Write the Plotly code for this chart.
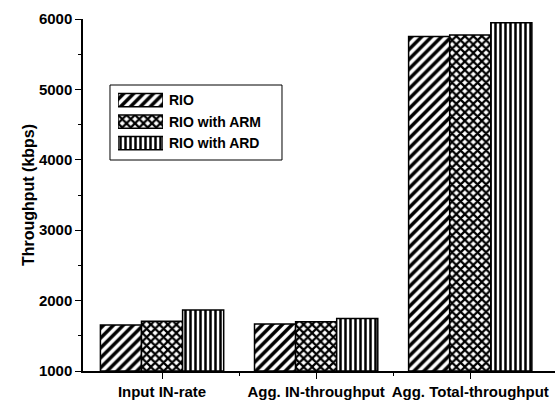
import plotly.graph_objects as go

categories = ["Input IN-rate", "Agg. IN-throughput", "Agg. Total-throughput"]
series_names = ["RIO", "RIO with ARM", "RIO with ARD"]
rio = [1655, 1668, 5750]
rio_arm = [1706, 1700, 5772]
rio_ard = [1866, 1745, 5948]
y_ticks = [1000, 2000, 3000, 4000, 5000, 6000]

series_values = [rio, rio_arm, rio_ard]
patterns = [
    dict(shape="/", size=7, solidity=0.5),
    dict(shape="x", size=6, solidity=0.6),
    dict(shape="|", size=5, solidity=0.5),
]
x_pos = list(range(len(categories)))

font_family = "Liberation Sans, Arial, sans-serif"


def pattern_marker(p):
    return dict(
        color="white",
        line=dict(color="black", width=1.5),
        pattern=dict(shape=p["shape"], fgcolor="black", bgcolor="white",
                     fgopacity=1, size=p["size"], solidity=p["solidity"],
                     fillmode="replace"),
    )


fig = go.Figure()
for name, vals, pat in zip(series_names, series_values, patterns):
    fig.add_trace(go.Bar(
        name=name,
        x=x_pos,
        y=[v - 1000 for v in vals],
        base=1000,
        marker=pattern_marker(pat),
        showlegend=False,
    ))

# Legend drawn on its own small hidden axes so the swatches can be wide
for name, pat in zip(series_names, patterns):
    fig.add_trace(go.Bar(
        x=[1], y=[name], base=0, orientation="h",
        xaxis="x2", yaxis="y2", width=0.62,
        marker=pattern_marker(pat),
        showlegend=False, hoverinfo="skip",
    ))
    fig.add_annotation(
        text=f"<b>{name}</b>", x=0.178, xref="paper", y=name, yref="y2",
        xanchor="left", yanchor="middle", showarrow=False,
        font=dict(family=font_family, size=14, color="black"),
    )

fig.add_shape(type="rect", xref="paper", yref="paper",
              x0=0.0572, x1=0.4216, y0=0.5994, y1=0.8125,
              line=dict(color="black", width=1), fillcolor="white", layer="below")

fig.update_layout(
    width=560, height=400,
    margin=dict(l=83, r=5, t=19, b=29),
    paper_bgcolor="white", plot_bgcolor="white",
    barmode="group", bargap=0.2, bargroupgap=0,
    font=dict(family=font_family, size=15, color="black"),
    showlegend=False,
    xaxis=dict(
        range=[-0.513, 2.55], automargin=False,
        tickvals=x_pos, ticktext=[f"<b>{c}</b>" for c in categories],
        showline=True, linecolor="black", linewidth=1.5,
        ticks="outside", ticklen=6, tickcolor="black",
        minor=dict(tickvals=[0.5, 1.5], ticks="outside", ticklen=3, tickcolor="black"),
        showgrid=False, zeroline=False,
        tickfont=dict(family=font_family, size=15, color="black"),
    ),
    yaxis=dict(
        range=[1000, 6000], automargin=False,
        tickvals=y_ticks, ticktext=[f"<b>{t}</b>" for t in y_ticks],
        showline=True, linecolor="black", linewidth=1.5,
        ticks="outside", ticklen=6, tickcolor="black",
        minor=dict(dtick=500, ticks="outside", ticklen=3, tickcolor="black"),
        showgrid=False, zeroline=False,
        tickfont=dict(family=font_family, size=15, color="black"),
        title=dict(text="<b>Throughput (kbps)</b>", standoff=0,
                   font=dict(family=font_family, size=16, color="black")),
    ),
    xaxis2=dict(domain=[0.0742, 0.1695], range=[0, 1], visible=False,
                anchor="y2", fixedrange=True),
    yaxis2=dict(domain=[0.617, 0.800], visible=False, anchor="x2",
                categoryorder="array", categoryarray=series_names,
                autorange="reversed", fixedrange=True),
)

fig.write_html("out.html")
